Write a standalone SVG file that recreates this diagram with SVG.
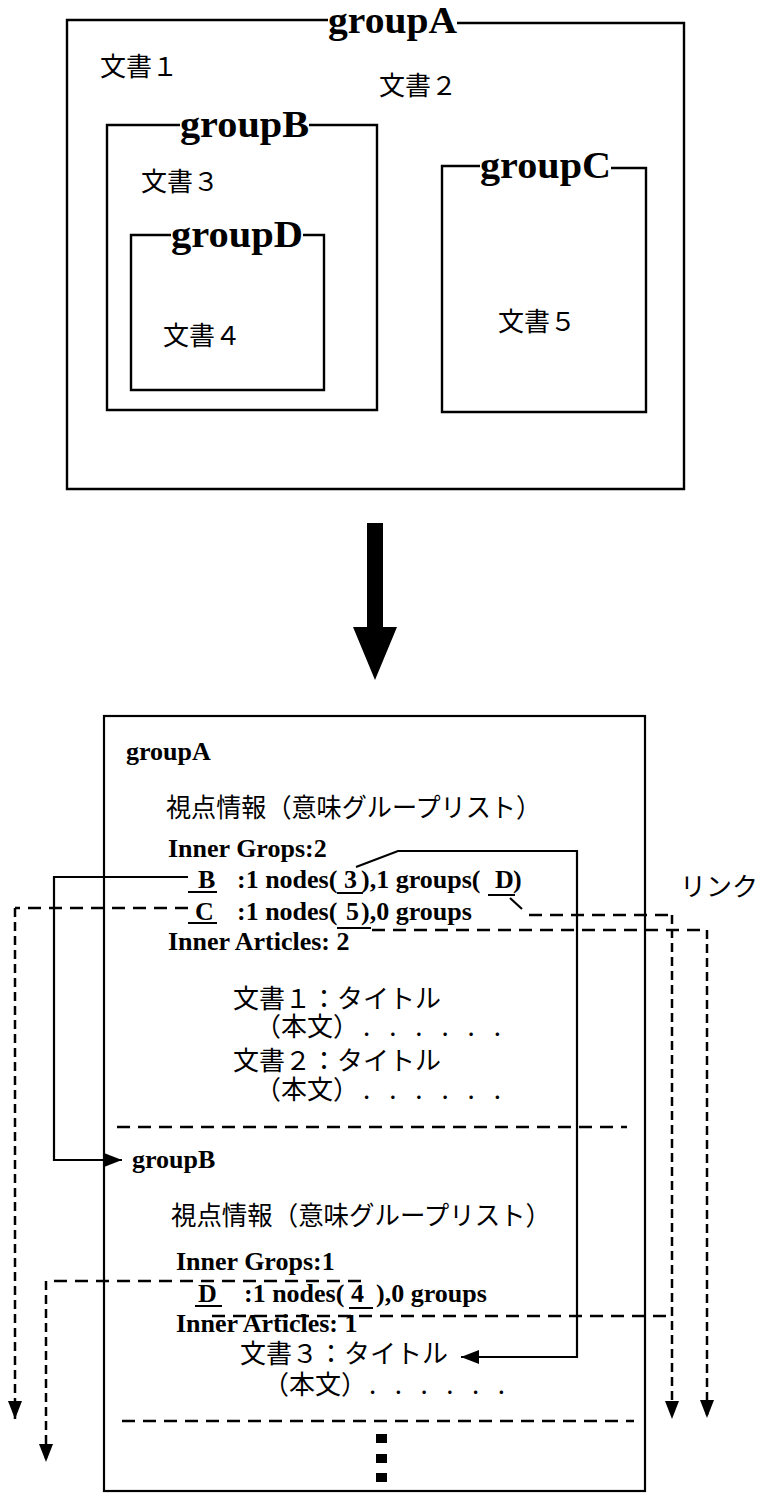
<svg xmlns="http://www.w3.org/2000/svg" width="761" height="1493" viewBox="0 0 761 1493">
<defs>
<style>
.box{fill:none;stroke:#000;stroke-width:2.4}
.glabel{font-family:"Liberation Serif","Times New Roman",serif;font-weight:700;font-size:38px;fill:#000}
.jp{font-family:"Noto Sans CJK JP","Noto Sans CJK SC",sans-serif;font-size:26px;fill:#000}
.en{font-family:"Liberation Serif","Times New Roman",serif;font-weight:700;font-size:26px;fill:#000}
.solid{fill:none;stroke:#000;stroke-width:2.2}
.hdash{fill:none;stroke:#000;stroke-width:2.5;stroke-dasharray:13 8}
.vdash{fill:none;stroke:#000;stroke-width:2.5;stroke-dasharray:9 5}
.ul{stroke:#000;stroke-width:2}
</style>
<marker id="ah" markerUnits="userSpaceOnUse" markerWidth="18" markerHeight="14" refX="18" refY="7" orient="auto"><path d="M0,0 L18,7 L0,14 z" fill="#000"/></marker>
</defs>
<rect width="761" height="1493" fill="#fff"/>

<g id="top-groupA">
<path class="box" d="M328,20 H67 V489 H684 V23 H457"/>
<text class="glabel" x="328" y="33" textLength="129" lengthAdjust="spacingAndGlyphs">groupA</text>
<text class="jp" x="100" y="76">文書１</text>
<text class="jp" x="379" y="95">文書２</text>
</g>
<g id="top-groupB">
<path class="box" d="M180,125 H107 V410 H377 V125 H309"/>
<text class="glabel" x="180" y="137" textLength="129" lengthAdjust="spacingAndGlyphs">groupB</text>
<text class="jp" x="141" y="191">文書３</text>
</g>
<g id="top-groupD">
<path class="box" d="M171,235 H131 V390 H324 V235 H303"/>
<text class="glabel" x="171" y="247" textLength="132" lengthAdjust="spacingAndGlyphs">groupD</text>
<text class="jp" x="163" y="345">文書４</text>
</g>
<g id="top-groupC">
<path class="box" d="M480,166 H442 V412 H646 V168 H611"/>
<text class="glabel" x="480" y="178" textLength="131" lengthAdjust="spacingAndGlyphs">groupC</text>
<text class="jp" x="498" y="331">文書５</text>
</g>

<g id="big-arrow">
<polygon points="367,523 383,523 383,627 397,627 375,680 353,627 367,627" fill="#000"/>
</g>

<g id="list-box">
<rect x="104" y="716" width="541" height="775" fill="none" stroke="#000" stroke-width="2.2"/>
<text class="en" x="126" y="760">groupA</text>
<text class="jp" x="166" y="817" textLength="375" lengthAdjust="spacingAndGlyphs">視点情報（意味グループリスト）</text>
<text class="en" x="168" y="857">Inner Grops:2</text>
<text class="en" x="198" y="888">B</text>
<line class="ul" x1="188" y1="892" x2="217" y2="892"/>
<text class="en" x="237" y="888">:1 nodes(</text>
<text class="en" x="344" y="888">3</text>
<line class="ul" x1="337" y1="893" x2="363" y2="893"/>
<text class="en" x="361" y="888">),1 groups(</text>
<text class="en" x="495" y="888">D</text>
<line class="ul" x1="488" y1="895" x2="515" y2="895"/>
<text class="en" x="513" y="888">)</text>
<text class="en" x="195" y="920">C</text>
<line class="ul" x1="188" y1="923" x2="217" y2="923"/>
<text class="en" x="237" y="920">:1 nodes(</text>
<text class="en" x="346" y="920">5</text>
<line class="ul" x1="337" y1="928" x2="371" y2="928"/>
<text class="en" x="361" y="920">),0 groups</text>
<text class="en" x="168" y="950">Inner Articles: 2</text>
<text class="jp" x="233" y="1008">文書１：タイトル</text>
<text class="jp" x="255" y="1036">（本文）</text>
<text class="jp" x="363" y="1036" textLength="138" lengthAdjust="spacing">. . . . . .</text>
<text class="jp" x="233" y="1070">文書２：タイトル</text>
<text class="jp" x="255" y="1099">（本文）</text>
<text class="jp" x="363" y="1099" textLength="138" lengthAdjust="spacing">. . . . . .</text>
<line class="hdash" x1="117" y1="1127" x2="627" y2="1127"/>
<text class="en" x="132" y="1168">groupB</text>
<text class="jp" x="171" y="1225" textLength="380" lengthAdjust="spacingAndGlyphs">視点情報（意味グループリスト）</text>
<text class="en" x="176" y="1270">Inner Grops:1</text>
<text class="en" x="198" y="1302">D</text>
<line class="ul" x1="195" y1="1306" x2="222" y2="1306"/>
<text class="en" x="244" y="1302">:1 nodes(</text>
<text class="en" x="351" y="1302">4</text>
<line class="ul" x1="349" y1="1308" x2="373" y2="1308"/>
<text class="en" x="376" y="1302">),0 groups</text>
<text class="en" x="176" y="1332">Inner Articles: 1</text>
<text class="jp" x="240" y="1363">文書３：タイトル</text>
<text class="jp" x="263" y="1394">（本文）</text>
<text class="jp" x="369" y="1394" textLength="136" lengthAdjust="spacing">. . . . . .</text>
<line class="hdash" x1="122" y1="1421" x2="634" y2="1421"/>
<rect x="376" y="1434" width="11" height="9" fill="#000"/>
<rect x="376" y="1454" width="11" height="9" fill="#000"/>
<rect x="376" y="1473" width="11" height="9" fill="#000"/>
</g>

<g id="label-link">
<text class="jp" x="680" y="896">リンク</text>
</g>

<g id="connectors">
<polyline class="solid" points="188,877 54,877 54,1160 122,1160" marker-end="url(#ah)"/>
<polyline class="solid" points="356,867 398,851 577,851 577,1357 461,1357" marker-end="url(#ah)"/>
<line class="hdash" x1="188" y1="908" x2="15" y2="908"/>
<line class="vdash" x1="15" y1="908" x2="15" y2="1419" marker-end="url(#ah)"/>
<line class="solid" x1="510" y1="898" x2="522" y2="909"/>
<line class="hdash" x1="529" y1="915" x2="672" y2="915"/>
<line class="vdash" x1="672" y1="915" x2="672" y2="1419" marker-end="url(#ah)"/>
<line class="hdash" x1="372" y1="930" x2="707" y2="930"/>
<line class="vdash" x1="707" y1="930" x2="707" y2="1418" marker-end="url(#ah)"/>
<line class="hdash" x1="361" y1="1281" x2="46" y2="1281"/>
<line class="vdash" x1="46" y1="1281" x2="46" y2="1462" marker-end="url(#ah)"/>
<line class="hdash" x1="212" y1="1316" x2="672" y2="1316"/>
</g>
</svg>
